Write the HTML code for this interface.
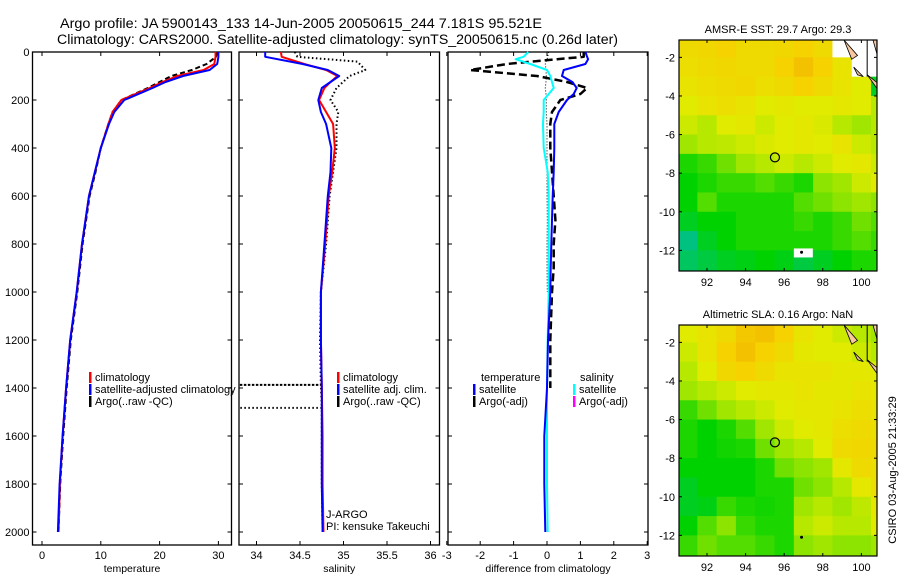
<!DOCTYPE html>
<html><head><meta charset="utf-8">
<style>
html,body{margin:0;padding:0;background:#fff;}
svg{display:block;font-family:"Liberation Sans",sans-serif;}
</style></head>
<body>
<svg id="fig" width="900" height="580" viewBox="0 0 900 580" xmlns="http://www.w3.org/2000/svg">
<text x="60" y="28" font-size="13.5" textLength="482" lengthAdjust="spacingAndGlyphs">Argo profile: JA 5900143_133 14-Jun-2005 20050615_244 7.181S 95.521E</text>
<text x="57" y="44" font-size="13.5" textLength="561" lengthAdjust="spacingAndGlyphs">Climatology: CARS2000. Satellite-adjusted climatology: synTS_20050615.nc (0.26d later)</text>
<g id="plots"></g>
<text transform="translate(896,470) rotate(-90)" text-anchor="middle" font-size="11">CSIRO 03-Aug-2005 21:33:29</text>
</svg>
<script>
// ---------- DATA ----------
const depths = [0,20,50,75,100,125,150,200,250,300,400,500,600,700,800,1000,1200,1400,1600,1800,2000];
const tempClim = [29.5,29.5,29.3,27.5,23,20.5,18.3,13.5,12,11.3,10,9,8,7.4,6.8,5.9,4.8,4.1,3.5,3.05,2.8];
const tempSat  = [30,30,29.8,28.5,24,21,18.8,14,12.3,11.4,10,9,8,7.4,6.8,5.9,4.8,4.1,3.5,3.0,2.7];
const tempArgo = [29.8,29.6,28,25.5,22,20,18,13.5,12,11.3,10,9.1,8.1,7.5,6.9,6,4.9,4.2,3.6,3.1,2.8];
const salClim = [34.28,34.29,34.55,34.8,34.93,34.85,34.78,34.72,34.8,34.88,34.9,34.87,34.83,34.81,34.79,34.74,34.74,34.75,34.76,34.76,34.77];
const salSat  = [34.1,34.1,34.53,34.82,34.95,34.85,34.75,34.71,34.74,34.8,34.86,34.85,34.82,34.8,34.78,34.74,34.74,34.75,34.75,34.75,34.76];
const argoSalDepths = [0,20,40,75,100,150,200,250,300,400,500,600,800,1000,1200,1387,1387,1387,1483,1483,1483,1600,1800,2000];
const argoSal = [34.44,34.47,35.16,35.25,35.07,34.92,34.85,34.94,34.92,34.92,34.88,34.84,34.8,34.74,34.73,34.74,33.8,34.74,34.75,33.8,34.75,34.75,34.75,34.76];
const diffDepths = [0,20,30,50,75,100,125,150,175,200,250,300,400,500,600,700,800,900,1000,1200,1400,1600,1800,2000];
const diffTempSat = [1.15,1.2,1.23,1.15,0.5,0.45,0.76,0.89,0.8,0.6,0.35,0.22,0.22,0.2,0.17,0.15,0.13,0.11,0.1,0.03,0,-0.08,-0.08,-0.05];
const diffTempArgo = [1.1,1.1,0.3,-1.2,-2.3,-0.3,0.6,1.2,1.0,0.4,0.15,0.1,0.1,0.15,0.2,0.25,0.2,0.2,0.15,0.1,0.1];
const diffSalSat = [-0.56,-0.7,-0.94,-0.5,0,0.1,0.15,0.2,0.05,-0.1,-0.1,-0.12,-0.1,0.02,0.05,0.05,0.05,0.05,0.05,0.02,0,0,0,0.02];
const diffSalArgo = [0.05,0.02,0,-0.05,-0.03,-0.02,-0.03,-0.05,-0.03,-0.02,-0.02,0,0,0,0,0.01,0,0,0.01];
const depthTicks = [0,200,400,600,800,1000,1200,1400,1600,1800,2000];
const tempTicks = [0,10,20,30];
const salTicks = [34,34.5,35,35.5,36];
const diffTicks = [-3,-2,-1,0,1,2,3];
const lonTicks = [92,94,96,98,100];
const latTicks = [-2,-4,-6,-8,-10,-12];
const sstField = [
[0.8,0.82,0.85,0.8,0.8,0.82,0.85,0.8,null,null,null],
[0.78,0.8,0.82,0.8,0.8,0.85,0.9,0.85,0.75,null,null],
[0.75,0.78,0.8,0.82,0.78,0.8,0.85,0.8,0.75,0.7,0.2],
[0.7,0.75,0.78,0.75,0.7,0.72,0.7,0.7,0.72,0.7,0.6],
[0.65,0.6,0.7,0.72,0.65,0.7,0.72,0.68,0.6,0.55,0.6],
[0.55,0.6,0.62,0.65,0.68,0.7,0.72,0.7,0.75,0.65,0.6],
[0.3,0.35,0.45,0.55,0.6,0.65,0.6,0.65,0.7,0.72,0.65],
[0.25,0.3,0.35,0.35,0.4,0.35,0.3,0.5,0.55,0.65,0.7],
[0.25,0.4,0.3,0.3,0.3,0.3,0.4,0.45,0.5,0.55,0.5],
[0.2,0.25,0.25,0.3,0.3,0.3,0.35,0.3,0.35,0.45,0.4],
[0.05,0.2,0.25,0.3,0.3,0.3,0.3,0.3,0.35,0.4,0.35],
[0.1,0.15,0.2,0.22,0.25,0.22,0.15,0.2,0.25,0.3,0.3]];
const slaField = [
[0.7,0.75,0.8,0.88,0.9,0.85,0.75,0.7,0.65,0.6,0.55],
[0.65,0.75,0.85,0.9,0.85,0.8,0.72,0.7,0.7,0.65,0.6],
[0.6,0.7,0.82,0.85,0.8,0.75,0.75,0.75,0.72,0.72,0.7],
[0.55,0.6,0.65,0.7,0.72,0.72,0.75,0.72,0.72,0.75,0.72],
[0.35,0.45,0.55,0.6,0.65,0.7,0.72,0.72,0.75,0.78,0.75],
[0.3,0.25,0.3,0.4,0.55,0.65,0.7,0.72,0.78,0.8,0.78],
[0.3,0.25,0.28,0.3,0.45,0.55,0.6,0.7,0.8,0.82,0.8],
[0.25,0.25,0.25,0.25,0.3,0.45,0.5,0.55,0.72,0.8,0.78],
[0.2,0.25,0.25,0.25,0.3,0.3,0.45,0.5,0.6,0.72,0.78],
[0.2,0.22,0.35,0.3,0.28,0.3,0.55,0.6,0.55,0.62,0.72],
[0.25,0.4,0.5,0.35,0.3,0.3,0.6,0.65,0.6,0.6,0.7],
[0.35,0.45,0.4,0.4,0.35,0.3,0.5,0.55,0.5,0.5,0.55]];
const argoLon = 95.521, argoLat = -7.181;

// ---------- DRAW ----------
const NS = "http://www.w3.org/2000/svg";
const root = document.getElementById('plots');
function mk(tag, attrs, parent){ const e=document.createElementNS(NS,tag); for(const k in attrs) e.setAttribute(k,attrs[k]); (parent||root).appendChild(e); return e; }
const TOP=52, BOT=545;
const yD = d => 52 + d*0.24;

function panel(name, left, right, xs, ticks, fmt, label, tickLabelsLeft){
  const g = mk('g',{});
  
  
  const f = mk('rect',{x:left,y:TOP,width:right-left,height:BOT-TOP,fill:'none',stroke:'#000','stroke-width':1.3},g);
  
  
  depthTicks.forEach(d=>{
    const y=yD(d);
    mk('line',{x1:left,x2:left+4,y1:y,y2:y,stroke:'#000'},g);
    mk('line',{x1:right-4,x2:right,y1:y,y2:y,stroke:'#000'},g);
    if(tickLabelsLeft){
      const t=mk('text',{x:left-3,y:y+4,'text-anchor':'end','font-size':11},g);
      t.textContent=d;
      
      
    }
  });
  ticks.forEach(v=>{
    const x=xs(v);
    mk('line',{x1:x,x2:x,y1:TOP,y2:TOP+4,stroke:'#000'},g);
    mk('line',{x1:x,x2:x,y1:BOT-4,y2:BOT,stroke:'#000'},g);
    const t=mk('text',{x:x,y:559,'text-anchor':'middle','font-size':11},g);
    t.textContent=fmt(v);
    
    
  });
  const al=mk('text',{x:(left+right)/2,y:572,'text-anchor':'middle','font-size':10.5},g);
  al.textContent=label;
  
  
  return g;
}
function line(g, dep, vals, xs, color, w, dash, name){
  const pts = vals.map((v,i)=>xs(v).toFixed(1)+','+yD(dep[i]).toFixed(1)).join(' ');
  const p = mk('polyline',{points:pts,fill:'none',stroke:color,'stroke-width':w,'stroke-dasharray':dash||'none','stroke-linejoin':'round'},g);
  
  
}
function legend(g, x, y, color, text, name){
  mk('rect',{x:x,y:y-9,width:2.5,height:11,fill:color},g);
  const t=mk('text',{x:x+6,y:y,'font-size':11},g);
  t.textContent=text;
  
  
}

const xT = v => 42 + v*5.88;
const g1 = panel('temperature-panel',32.5,231.5,xT,tempTicks,v=>v,'temperature',true);
line(g1,depths,tempArgo,xT,'#000',2,'5,3','argo-temperature-line');
line(g1,depths,tempClim,xT,'#f00',2,null,'climatology-temperature-line');
line(g1,depths,tempSat,xT,'#00f',2,null,'satellite-temperature-line');
legend(g1,89,381,'#f00','climatology','legend-climatology');
legend(g1,89,393,'#00f','satellite-adjusted climatology','legend-satellite');
legend(g1,89,405,'#000','Argo(..raw -QC)','legend-argo');

const xS = v => 256.5 + (v-34)*87;
const g2 = panel('salinity-panel',239,439.5,xS,salTicks,v=>v,'salinity',false);
line(g2,argoSalDepths,argoSal,xS,'#000',2,'1.5,2.5','argo-salinity-line');
line(g2,depths,salClim,xS,'#f00',2,null,'climatology-salinity-line');
line(g2,depths,salSat,xS,'#00f',2,null,'satellite-salinity-line');
legend(g2,337,381,'#f00','climatology','legend-sal-climatology');
legend(g2,337,393,'#00f','satellite adj. clim.','legend-sal-satellite');
legend(g2,337,405,'#000','Argo(..raw -QC)','legend-sal-argo');
const j1=mk('text',{x:326,y:518,'font-size':11},g2); j1.textContent='J-ARGO';
 
const j2=mk('text',{x:326,y:530,'font-size':11},g2); j2.textContent='PI: kensuke Takeuchi';
 

const xDf = v => 547 + v*33.4;
const g3 = panel('difference-panel',448,648,xDf,diffTicks,v=>v,'difference from climatology',false);
line(g3,diffDepths,diffSalArgo,xDf,'#000',1,'1,2','argo-salinity-diff-line');
line(g3,diffDepths,diffTempArgo,xDf,'#000',2.5,'8,4','argo-temperature-diff-line');
line(g3,diffDepths,diffSalSat,xDf,'#0ff',2,null,'satellite-salinity-diff-line');
line(g3,diffDepths,diffTempSat,xDf,'#00f',2,null,'satellite-temperature-diff-line');
const lt=mk('text',{x:481,y:381,'font-size':11},g3); lt.textContent='temperature';
 
legend(g3,473,393,'#00f','satellite','legend-diff-temp-satellite');
legend(g3,473,405,'#000','Argo(-adj)','legend-diff-temp-argo');
const ls=mk('text',{x:580,y:381,'font-size':11},g3); ls.textContent='salinity';
 
legend(g3,573,393,'#0ff','satellite','legend-diff-sal-satellite');
legend(g3,573,405,'#f0f','Argo(-adj)','legend-diff-sal-argo');

const stops=[[0,[0,190,160]],[0.25,[0,210,0]],[0.5,[140,228,0]],[0.7,[225,235,0]],[0.85,[245,210,0]],[1,[240,160,0]]];
function cmap(v){
  for(let i=1;i<stops.length;i++){ if(v<=stops[i][0]){ const a=stops[i-1],b=stops[i]; const t=(v-a[0])/(b[0]-a[0]); const c=a[1].map((x,k)=>Math.round(x+(b[1][k]-x)*t)); return 'rgb('+c.join(',')+')'; } }
  return 'rgb(240,160,0)';
}
function map(name, top, field, title){
  const L=679,R=877,B=top+231;
  const lx = lon => L + (lon-90.55)*19.3;
  const ly = lat => top + (-1.1-lat)*19.3;
  const g = mk('g',{});
  
  
  const cid='clip-'+name;
  const cp=mk('clipPath',{id:cid},g); mk('rect',{x:L,y:top,width:R-L,height:B-top},cp);
  const cells=mk('g',{'clip-path':'url(#'+cid+')'},g);
  field.forEach((row,r)=>row.forEach((v,c)=>{
    const lon0=90.5+c, lat0=-1-r;
    const h = r===field.length-1 ? 2 : 1;
    const rc=mk('rect',{x:lx(lon0),y:ly(lat0),width:19.8,height:19.3*h+0.5,fill:v===null?'#fff':cmap(v)},cells);
    
    
  }));
  mk('path',{d:`M${lx(99.1)},${ly(-1.1)} L${lx(99.8)},${ly(-1.9)} L${lx(99.5)},${ly(-2.1)} Z M${lx(99.6)},${ly(-2.5)} L${lx(100.1)},${ly(-3)} L${lx(99.8)},${ly(-2.9)} Z M${lx(100.3)},${ly(-2.9)} L${lx(100.8)},${ly(-3.6)} L${lx(100.8)},${ly(-3.3)} Z M${lx(100.6)},${ly(-1.1)} L${lx(100.8)},${ly(-1.1)} L${lx(100.8)},${ly(-1.8)} Z`,fill:'#f7c8a0',stroke:'#000','stroke-width':0.8},cells);
  mk('line',{x1:lx(100.3),x2:lx(100.3),y1:top,y2:ly(-3),stroke:'#000'},cells);
  lonTicks.forEach(v=>{ const x=lx(v);
    mk('line',{x1:x,x2:x,y1:top,y2:top+3,stroke:'#000'},g); mk('line',{x1:x,x2:x,y1:B-3,y2:B,stroke:'#000'},g);
    const t=mk('text',{x:x,y:B+15,'text-anchor':'middle','font-size':11},g); t.textContent=v;
      });
  latTicks.forEach(v=>{ const y=ly(v);
    mk('line',{x1:L,x2:L+3,y1:y,y2:y,stroke:'#000'},g); mk('line',{x1:R-3,x2:R,y1:y,y2:y,stroke:'#000'},g);
    const t=mk('text',{x:L-4,y:y+4,'text-anchor':'end','font-size':11},g); t.textContent=v;
      });
  mk('rect',{x:L,y:top,width:R-L,height:B-top,fill:'none',stroke:'#000','stroke-width':1.2},g);
  const m=mk('circle',{cx:lx(argoLon),cy:ly(argoLat),r:4.5,fill:'none',stroke:'#000','stroke-width':1.2},g);
   
  mk('circle',{cx:lx(96.9),cy:ly(-12.1),r:1.5,fill:'#000'},g);
  const tt=mk('text',{x:(L+R)/2,y:top-7,'text-anchor':'middle','font-size':11},g); tt.textContent=title;
   
  return {g,lx,ly};
}
const m1=map('sst-map',40,sstField,'AMSR-E SST: 29.7 Argo: 29.3');
mk('rect',{x:m1.lx(96.5),y:m1.ly(-11.9),width:19,height:9,fill:'#fff'},m1.g);
mk('circle',{cx:m1.lx(96.9),cy:m1.ly(-12.1),r:1.5,fill:'#000'},m1.g);
map('sla-map',325,slaField,'Altimetric SLA: 0.16 Argo: NaN');
</script>
</body></html>
